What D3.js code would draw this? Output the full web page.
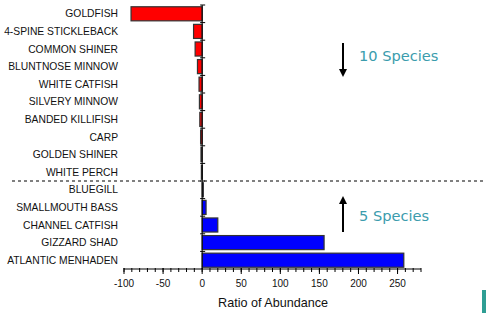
<!DOCTYPE html>
<html lang="en">
<head>
    <meta charset="utf-8">
    <title>Ratio of Abundance</title>
    <script src="https://d3js.org/d3.v7.min.js"></script>
    <style>
        body { margin: 0; background: #fff; }
        svg { display: block; }
    </style>
</head>
<body>
<svg id="g1"></svg>
<script>
    // species top to bottom, ratio values
    let species = ["GOLDFISH", "4-SPINE STICKLEBACK", "COMMON SHINER", "BLUNTNOSE MINNOW",
        "WHITE CATFISH", "SILVERY MINNOW", "BANDED KILLIFISH", "CARP", "GOLDEN SHINER",
        "WHITE PERCH", "BLUEGILL", "SMALLMOUTH BASS", "CHANNEL CATFISH", "GIZZARD SHAD",
        "ATLANTIC MENHADEN"];
    let ratios = [-91, -11, -9, -6, -4, -3.5, -3, -2, -1.5, -1, 1.5, 5, 20, 156, 258];
    let majorTicks = [-100, -50, 0, 50, 100, 150, 200, 250];
    let minorTicks = d3.range(-100, 281, 10);
    let notes = [{text: "10 Species", dir: "down"}, {text: "5 Species", dir: "up"}];

    let width = 486, height = 313;
    let margin = {top: 5, right: 65, bottom: 44, left: 124};

    let svg = d3.select("#g1").attr("width", width).attr("height", height);

    svg.append("defs").append("marker")
        .attr("id", "head")
        .attr("viewBox", "0 0 10 10")
        .attr("refX", 5).attr("refY", 5)
        .attr("markerWidth", 4).attr("markerHeight", 4)
        .attr("orient", "auto")
        .append("path").attr("d", "M0,0 L10,5 L0,10 z").attr("fill", "#000");

    let x = d3.scaleLinear().domain([-100, 280]).range([margin.left, width - margin.right]);
    let y = d3.scaleBand().domain(species)
        .range([margin.top, height - margin.bottom]).paddingInner(0.2).paddingOuter(0.1);

    // bars
    svg.append("g").selectAll("rect")
        .data(species)
        .join("rect")
        .attr("x", (d, i) => x(Math.min(0, ratios[i])))
        .attr("y", d => y(d))
        .attr("width", (d, i) => Math.max(1, Math.abs(x(ratios[i]) - x(0))))
        .attr("height", y.bandwidth())
        .attr("fill", (d, i) => ratios[i] < 0 ? "#ff0000" : "#0000ff")
        .attr("stroke", "#333")
        .attr("stroke-width", 1.2);

    // category labels
    svg.append("g").selectAll("text")
        .data(species)
        .join("text")
        .attr("x", margin.left - 6)
        .attr("y", d => y(d) + y.bandwidth() / 2)
        .attr("dy", "0.35em")
        .attr("text-anchor", "end")
        .attr("font-family", "Liberation Sans, Arial, sans-serif")
        .attr("font-size", 10.3)
        .attr("fill", "#111")
        .text(d => d);

    // vertical zero axis with ticks at band edges
    let y0 = y.range()[0], y1 = y.range()[1];
    let zero = svg.append("g").attr("stroke", "#000");
    zero.append("line")
        .attr("x1", x(0)).attr("x2", x(0))
        .attr("y1", y0).attr("y2", y1);
    zero.selectAll("line.tk")
        .data(d3.range(species.length))
        .join("line").attr("class", "tk")
        .attr("x1", x(0) - 2).attr("x2", x(0) + 3)
        .attr("y1", i => y0 + i * (y1 - y0) / species.length)
        .attr("y2", i => y0 + i * (y1 - y0) / species.length);

    // bottom axis
    let axisY = y1;
    let xa = svg.append("g").attr("stroke", "#000");
    xa.append("line")
        .attr("x1", x(-100)).attr("x2", x(280))
        .attr("y1", axisY).attr("y2", axisY);
    xa.selectAll("line.mn")
        .data(minorTicks)
        .join("line").attr("class", "mn")
        .attr("x1", d => x(d)).attr("x2", d => x(d))
        .attr("y1", axisY - 1).attr("y2", axisY + 3);
    xa.selectAll("line.mj")
        .data(majorTicks)
        .join("line").attr("class", "mj")
        .attr("x1", d => x(d)).attr("x2", d => x(d))
        .attr("y1", axisY - 1).attr("y2", axisY + 5);
    svg.append("g").selectAll("text")
        .data(majorTicks)
        .join("text")
        .attr("x", d => x(d))
        .attr("y", axisY + 17.5)
        .attr("text-anchor", "middle")
        .attr("font-family", "Liberation Sans, Arial, sans-serif")
        .attr("font-size", 10)
        .attr("fill", "#111")
        .text(d => d);

    svg.append("text")
        .attr("x", 273).attr("y", 307)
        .attr("text-anchor", "middle")
        .attr("font-family", "Liberation Sans, Arial, sans-serif")
        .attr("font-size", 12.6)
        .attr("fill", "#111")
        .text("Ratio of Abundance");

    // dashed divider between decline and increase groups
    let divY = y0 + 10 * (y1 - y0) / species.length;
    svg.append("line")
        .attr("x1", 12).attr("x2", width)
        .attr("y1", divY).attr("y2", divY)
        .attr("stroke", "#000")
        .attr("stroke-dasharray", "3,3");

    // arrows and notes
    let arrowX = 343;
    let noteY = [61, 221];
    notes.forEach((n, i) => {
        let top = n.dir === "down" ? 43 : 197;
        let bot = n.dir === "down" ? 76 : 232;
        svg.append("line")
            .attr("x1", arrowX).attr("x2", arrowX)
            .attr("y1", n.dir === "down" ? top : bot)
            .attr("y2", n.dir === "down" ? bot - 3 : top + 3)
            .attr("stroke", "#000")
            .attr("stroke-width", 2)
            .attr("marker-end", "url(#head)");
        svg.append("text")
            .attr("x", 359).attr("y", noteY[i])
            .attr("font-family", "DejaVu Sans, Verdana, sans-serif")
            .attr("font-size", 14.6)
            .attr("fill", "#3b9cad")
            .text(n.text);
    });

    // small teal mark at the bottom right corner
    svg.append("rect")
        .attr("x", 482).attr("y", 290)
        .attr("width", 4).attr("height", 23)
        .attr("fill", "#2e9e94");
</script>
</body>
</html>
